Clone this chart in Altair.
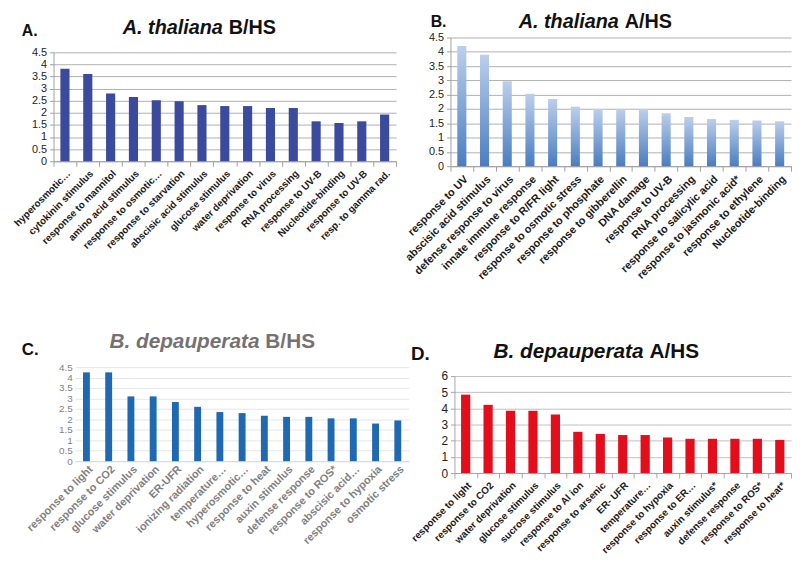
import json
import altair as alt
import pandas as pd

# ---------------- data ----------------
a_labels = ["hyperosmotic…", "cytokinin stimulus", "response to mannitol", "amino acid stimulus",
            "response to osmotic…", "response to starvation", "abscisic acid stimulus", "glucose stimulus",
            "water deprivation", "response to virus", "RNA processing", "response to UV-B",
            "Nucleotide-binding", "response to UV-B", "resp. to gamma rad."]
a_values = [3.82, 3.6, 2.8, 2.65, 2.52, 2.48, 2.32, 2.28, 2.28, 2.2, 2.2, 1.65, 1.58, 1.65, 1.93]

b_labels = ["response to UV", "abscisic acid stimulus", "defense response to virus", "innate immune response",
            "response to R/FR light", "response to osmotic stress", "response to phosphate",
            "response to gibberellin", "DNA damage", "response to UV-B", "RNA processing",
            "response to salicylic acid", "response to jasmonic acid*", "response to ethylene",
            "Nucleotide-binding"]
b_values = [4.2, 3.9, 2.97, 2.53, 2.35, 2.08, 2.0, 2.0, 2.0, 1.85, 1.72, 1.65, 1.62, 1.6, 1.57]

c_labels = ["response to light", "response to CO2", "glucose stimulus", "water deprivation", "ER-UFR",
            "ionizing radiation", "temperature…", "hyperosmotic…", "response to heat", "auxin stimulus",
            "defense response", "response to ROS*", "abscisic acid…", "response to hypoxia",
            "osmotic stress"]
c_values = [4.25, 4.25, 3.1, 3.1, 2.83, 2.6, 2.35, 2.3, 2.17, 2.12, 2.12, 2.05, 2.05, 1.8, 1.95]

d_labels = ["response to light", "response to CO2", "water deprivation", "glucose stimulus",
            "sucrose stimulus", "response to Al ion", "response to arsenic", "ER- UFR", "temperature…",
            "response to hypoxia", "response to ER…", "auxin stimulus*", "defense response",
            "response to ROS*", "response to heat*"]
d_values = [4.85, 4.22, 3.85, 3.85, 3.62, 2.55, 2.42, 2.35, 2.35, 2.2, 2.12, 2.12, 2.12, 2.12, 2.05]

ticks_45 = [0, 0.5, 1, 1.5, 2, 2.5, 3, 3.5, 4, 4.5]
ticks_6 = [0, 1, 2, 3, 4, 5, 6]

FONT = "Liberation Sans"
W, H = 792, 548
one = pd.DataFrame({"k": [0]})


def text(t, x, y, size, color="#111111", style="normal", weight="bold", align="left"):
    return alt.Chart(one).mark_text(
        text=t, font=FONT, fontSize=size, fontWeight=weight, fontStyle=style,
        color=color, align=align, baseline="middle"
    ).encode(x=alt.value(x), y=alt.value(y))


def panel(labels, values, color, xr, yr, ymax, yticks, bar_frac,
          grid_color, domain_color, x_label_color, y_label_color, y_label_size,
          x_label_size, show_ticks):
    df = pd.DataFrame({"i": list(range(len(labels))), "v": values})
    label_expr = json.dumps(labels) + "[datum.value]"
    return alt.Chart(df).mark_bar(
        color=color, width=alt.RelativeBandSize(bar_frac)
    ).encode(
        x=alt.X("i:O", scale=alt.Scale(range=xr, paddingInner=0, paddingOuter=0),
                axis=alt.Axis(title=None, orient="bottom", offset=yr[0] - H,
                              labelExpr=label_expr, labelAngle=-45,
                              labelFont=FONT, labelFontSize=x_label_size, labelFontWeight="bold",
                              labelColor=x_label_color, labelLimit=200,
                              labelPadding=2,
                              tickBand="extent", ticks=show_ticks, tickSize=5,
                              tickColor=domain_color, domainColor=domain_color,
                              grid=False)),
        y=alt.Y("v:Q", scale=alt.Scale(domain=[0, ymax], range=yr, nice=False),
                axis=alt.Axis(title=None, orient="left", offset=-xr[0],
                              values=yticks, format="~g",
                              labelFont=FONT, labelFontSize=y_label_size,
                              labelColor=y_label_color, labelPadding=3, labelOverlap=False,
                              grid=True, gridColor=grid_color,
                              domain=show_ticks, domainColor=domain_color,
                              ticks=show_ticks, tickSize=4, tickColor=domain_color)),
    )


blue_grad = alt.Gradient(
    gradient="linear",
    stops=[alt.GradientStop(color="#bccfec", offset=0),
           alt.GradientStop(color="#4a7dc0", offset=1)],
    x1=0, x2=0, y1=0, y2=1)

# pixel ranges inside the single 792x548 view
pA = panel(a_labels, a_values, "#3c4a9d", [46, 392], [152, 42], 4.5, ticks_45, 0.40,
           "#b0b0b0", "#a0a0a0", "#1a1a1a", "#222222", 11, 10, True)
pB = panel(b_labels, b_values, blue_grad, [447, 791], [157, 27], 4.5, ticks_45, 0.40,
           "#b0b0b0", "#a0a0a0", "#1a1a1a", "#222222", 11, 11, True)
pC = panel(c_labels, c_values, "#1f69b3", [68, 405], [455, 360], 4.5, ticks_45, 0.31,
           "#e6e6e6", "#d9d9d9", "#7f7f7f", "#7f7f7f", 10, 11, False)
pD = panel(d_labels, d_values, "#e30d1b", [451, 791], [467, 369], 6, ticks_6, 0.41,
           "#bfbfbf", "#a6a6a6", "#1a1a1a", "#222222", 12, 10, True)

texts = [
    text("A. thaliana", 217, 17, 20, style="italic", align="right"),
    text("B/HS", 223, 17, 20),
    text("A.", 14, 20, 16),
    text("A. thaliana", 617, 11, 20, style="italic", align="right"),
    text("A/HS", 623, 11, 20),
    text("B.", 427, 11, 16),
    text("B. depauperata", 254, 335, 21, color="#767171", style="italic", align="right"),
    text("B/HS", 260, 335, 21, color="#767171"),
    text("C.", 14, 343, 17),
    text("B. depauperata", 642, 345, 21, style="italic", align="right"),
    text("A/HS", 648, 345, 21),
    text("D.", 407, 347, 19),
]

chart = alt.layer(pA, pB, pC, pD, *texts).resolve_scale(
    x="independent", y="independent"
).resolve_axis(
    x="independent", y="independent"
).properties(
    width=W, height=H, padding=0, background="white",
    autosize=alt.AutoSizeParams(type="none")
).configure_view(stroke=None)

chart.save("out.html", embed_options={"renderer": "svg", "actions": False})
